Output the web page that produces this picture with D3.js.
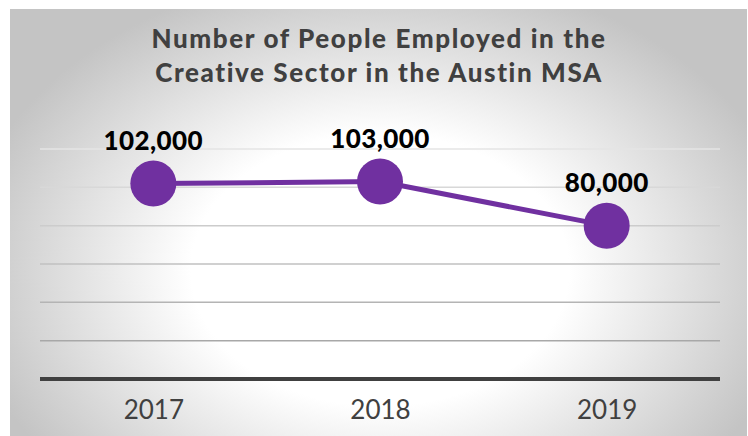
<!DOCTYPE html>
<html>
<head>
<meta charset="utf-8">
<script src="https://cdn.jsdelivr.net/npm/d3@7"></script>
<style>
  html, body { margin: 0; padding: 0; background: #ffffff; }
  svg { display: block; }
</style>
</head>
<body>
<svg id="chart" width="748" height="436"></svg>
<script>
// Employment in the creative sector, Austin MSA
const years = ["2017", "2018", "2019"];
const employed = [102000, 103000, 80000];
const valueLabels = ["102,000", "103,000", "80,000"];
const gridValues = [0, 20000, 40000, 60000, 80000, 100000, 120000];
const titleLines = ["Number of People Employed in the", "Creative Sector in the Austin MSA"];

const svg = d3.select("#chart");
const plot = { left: 40, right: 720, top: 149, bottom: 379 };

// Panel with soft radial shading
const defs = svg.append("defs");
const grad = defs.append("radialGradient")
  .attr("id", "panelShade")
  .attr("gradientUnits", "userSpaceOnUse")
  .attr("cx", 380).attr("cy", 270).attr("r", 420)
  .attr("gradientTransform", "translate(380,270) scale(1,0.72) translate(-380,-270)");
grad.append("stop").attr("offset", "0%").attr("stop-color", "#ffffff");
grad.append("stop").attr("offset", "45%").attr("stop-color", "#ffffff");
grad.append("stop").attr("offset", "100%").attr("stop-color", "#c4c4c4");

svg.append("rect")
  .attr("x", 10).attr("y", 9)
  .attr("width", 737).attr("height", 427)
  .attr("fill", "url(#panelShade)");

// Scales
const x = d3.scalePoint().domain(years).range([plot.left, plot.right]).padding(0.5);
const y = d3.scaleLinear().domain([0, 120000]).range([plot.bottom, plot.top]);
const gridShade = d3.scaleLinear().domain([0, 120000]).range(["#9c9c9c", "#e4e4e4"]);

// Horizontal gridlines
svg.append("g")
  .selectAll("line")
  .data(gridValues.filter(v => v > 0))
  .join("line")
  .attr("x1", plot.left).attr("x2", plot.right)
  .attr("y1", d => y(d)).attr("y2", d => y(d))
  .attr("stroke", d => gridShade(d))
  .attr("stroke-width", 1.5);

// Category axis
const xAxis = svg.append("g")
  .attr("transform", `translate(0,${y(0)})`)
  .call(d3.axisBottom(x).tickSize(0).tickPadding(22));
xAxis.select(".domain").remove();
xAxis.selectAll("text")
  .attr("font-family", "Lato, 'Open Sans', sans-serif")
  .attr("font-size", 26)
  .attr("font-weight", 400)
  .attr("fill", "#404040");

svg.append("line")
  .attr("x1", plot.left).attr("x2", plot.right)
  .attr("y1", y(0)).attr("y2", y(0))
  .attr("stroke", "#404040")
  .attr("stroke-width", 4);

// Series line and markers
const pts = years.map((yr, i) => ({ yr, v: employed[i], label: valueLabels[i] }));
svg.append("path")
  .datum(pts)
  .attr("fill", "none")
  .attr("stroke", "#7030a0")
  .attr("stroke-width", 5)
  .attr("d", d3.line().x(d => x(d.yr)).y(d => y(d.v)));

svg.append("g")
  .selectAll("circle")
  .data(pts)
  .join("circle")
  .attr("cx", d => x(d.yr))
  .attr("cy", d => y(d.v))
  .attr("r", 23)
  .attr("fill", "#7030a0");

// Value labels
svg.append("g")
  .selectAll("text")
  .data(pts)
  .join("text")
  .attr("x", d => x(d.yr))
  .attr("y", d => y(d.v) - 34)
  .attr("text-anchor", "middle")
  .attr("font-family", "Lato, 'Open Sans', sans-serif")
  .attr("font-size", 26)
  .attr("font-weight", 900)
  .attr("letter-spacing", 0.4)
  .attr("fill", "#000000")
  .text(d => d.label);

// Title
svg.append("text")
  .attr("x", 379)
  .attr("text-anchor", "middle")
  .attr("font-family", "Lato, 'Open Sans', sans-serif")
  .attr("font-size", 26)
  .attr("font-weight", 900)
  .attr("letter-spacing", 1.6)
  .attr("fill", "#404040")
  .selectAll("tspan")
  .data(titleLines)
  .join("tspan")
  .attr("x", 379)
  .attr("y", (d, i) => 48 + i * 33.5)
  .text(d => d);
</script>
</body>
</html>
